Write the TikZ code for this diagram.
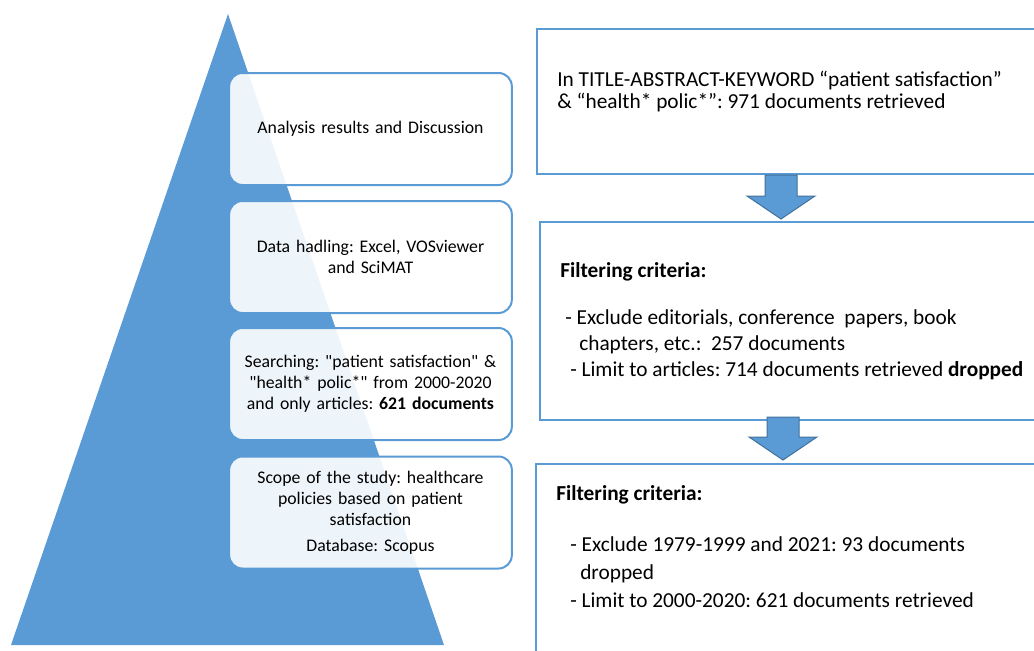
\documentclass[tikz,border=0pt]{standalone}
\usepackage{fontspec}
\setmainfont{Carlito}
\usetikzlibrary{positioning,calc}
\definecolor{pyrblue}{HTML}{5B9BD5}
\definecolor{pyredge}{HTML}{41719C}
\frenchspacing

\begin{document}
\begin{tikzpicture}[
  x=0.75pt,y=-0.75pt,
  stage/.style={draw=pyrblue, line width=1.5pt, rounded corners=10pt, fill=white, fill opacity=0.9, text opacity=1, align=center, text width=205pt, minimum width=212pt, minimum height=84pt, inner sep=0pt, font=\fontsize{13.3}{15.75}\selectfont},
  panel/.style={draw=pyrblue, line width=1.5pt, fill=white, minimum width=390pt, anchor=north west, inner sep=0pt},
  ptext/.style={anchor=base west, align=left, inner sep=0pt, font=\fontsize{16}{#1}\selectfont},
  blockarr/.style={fill=pyrblue, draw=pyredge, line width=0.75pt}
]
\useasboundingbox (0,0) rectangle (1034,650);
\clip (0,0) rectangle (1034,650);

% pyramid
\fill[pyrblue] (228,14) -- (444,645) -- (11,645) -- cycle;

% stages on the pyramid
\node[stage] (analysis) at (370.5,129) {Analysis results and Discussion};
\node[stage] (handling) at (370.5,257) {Data hadling: Excel, VOSviewer\\and SciMAT};
\node[stage] (search) at (370.5,384) {Searching: \textquotedbl patient satisfaction\textquotedbl\ \&\\\textquotedbl health* polic*\textquotedbl\ from 2000-2020\\and only articles: \textbf{621 documents}};
\node[stage] (scope) at (370.5,512.5) {Scope of the study: healthcare\\policies based on patient\\satisfaction\\[4pt]Database: Scopus};

% selection panels
\node[panel, minimum height=108.75pt] (boxA) at (536,28) {};
\node[panel, minimum height=148.5pt] (boxB) at (539,221) {};
\node[panel, minimum height=177.75pt] (boxC) at (535,463) {};

% text, anchored at the baseline of the last line
\node[ptext=16.5] (txtA) at (557,108) {In TITLE-ABSTRACT-KEYWORD “patient satisfaction”\\\& “health* polic*”: 971 documents retrieved};
\node[ptext=19.5] (txtB) at (560,376) {\textbf{Filtering criteria:}\\[15.75pt]
  \hspace*{3.75pt}- Exclude editorials, conference\ \ papers, book\\
  \hspace*{14.25pt}chapters, etc.:\ \ 257 documents\\
  \hspace*{7.5pt}- Limit to articles: 714 documents retrieved \textbf{dropped}};
\node[ptext=21] (txtC) at (556,607) {\textbf{Filtering criteria:}\\[17.25pt]
  \hspace*{10.5pt}- Exclude 1979-1999 and 2021: 93 documents\\
  \hspace*{18pt}dropped\\
  \hspace*{10.5pt}- Limit to 2000-2020: 621 documents retrieved};

% block arrows between panels
\draw[blockarr] (781,175) ++(-16,0) -- ++(32,0) -- ++(0,21) -- ++(18,0) -- ++(-34,23) -- ++(-34,-23) -- ++(18,0) -- cycle;
\draw[blockarr] (783,417) ++(-16,0) -- ++(32,0) -- ++(0,20) -- ++(18,0) -- ++(-34,23) -- ++(-34,-23) -- ++(18,0) -- cycle;
\end{tikzpicture}
\end{document}
